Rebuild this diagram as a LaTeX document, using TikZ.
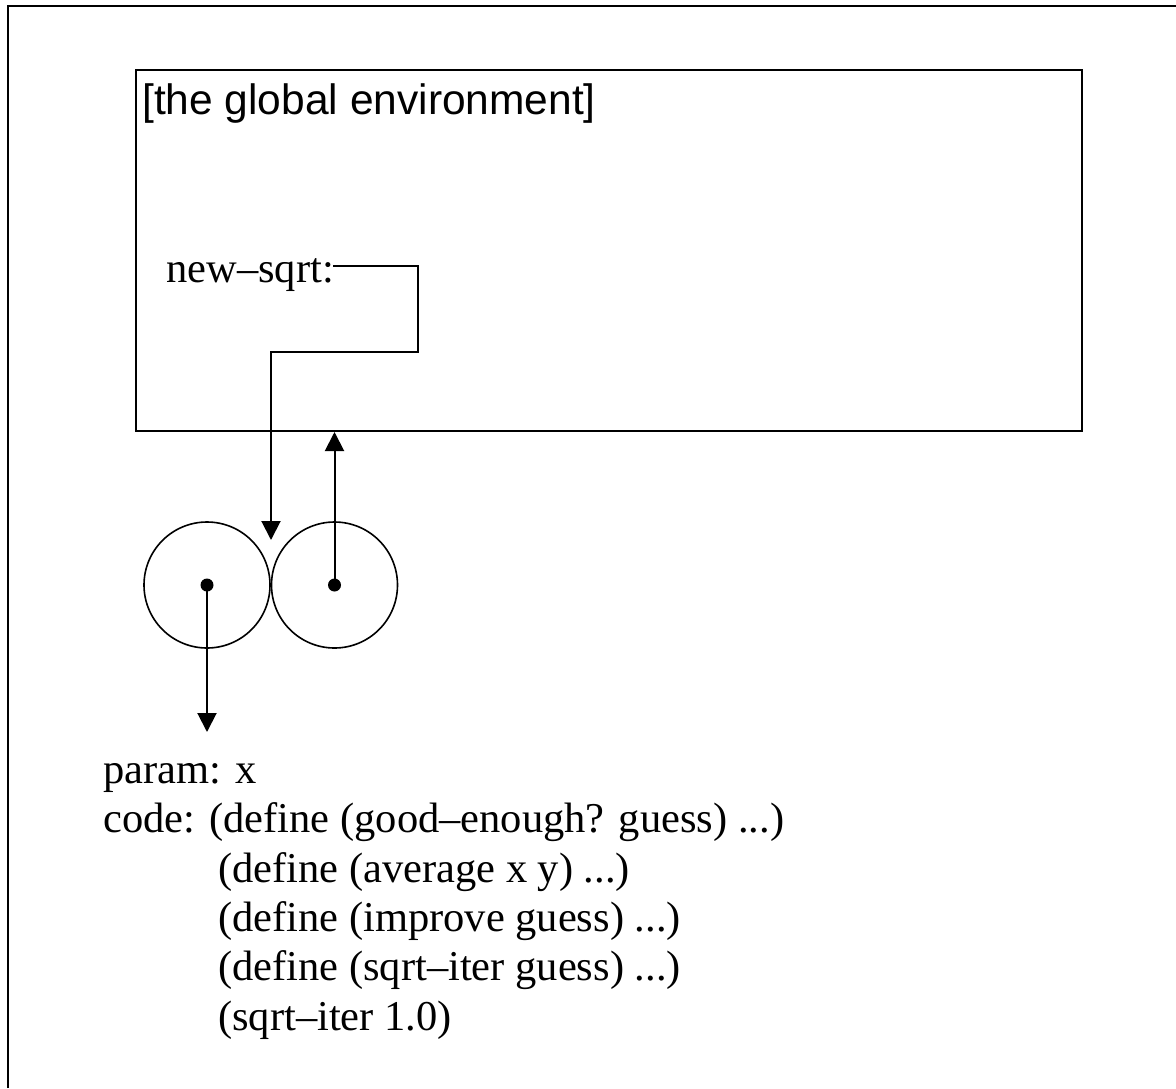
\documentclass[tikz,border=0pt]{standalone}
\usepackage{fontspec}
\setmainfont{Liberation Serif}
\setsansfont{Liberation Sans}
\usetikzlibrary{arrows.meta}

\tikzset{
  envBox/.style={draw, line width=2pt, inner sep=0pt},
  frameText/.style={font=\sffamily\fontsize{42.5}{50}\selectfont, anchor=base west, inner sep=0pt},
  valText/.style={font=\fontsize{42.5}{50}\selectfont, anchor=base west, inner sep=0pt},
  pairCell/.style={draw, circle, line width=1.6pt, minimum size=126pt, inner sep=0pt},
  ptrDot/.style={fill, circle, minimum size=13pt, inner sep=0pt},
  ptrLine/.style={line width=2pt, -{Triangle[width=19pt,length=19pt]}},
}

\begin{document}
\begin{tikzpicture}[x=1pt,y=-1pt]
\useasboundingbox (0,0) rectangle (1176,1088);
\draw[line width=2.5pt] (8,1088) -- (8,6) -- (1176,6);
\node[envBox, minimum width=946pt, minimum height=361pt] (globalEnv) at (609,250.5) {};
\node[frameText] (envTitle) at (142,114) {[the global environment]};
\node[valText] (newSqrt) at (166,282) {new--sqrt:};
\coordinate (bindStart) at (333,266);
\node[pairCell] (leftCell) at (207,585) {};
\node[pairCell] (rightCell) at (334.5,585) {};
\node[ptrDot] (leftDot) at (leftCell) {};
\node[ptrDot] (rightDot) at (rightCell) {};
\coordinate (pairTop) at (271,540);
\coordinate (paramTip) at (207,732);
\node[valText] (paramLine) at (103,783) {param: x};
\node[valText] (codeLine) at (103,832) {code: (define (good--enough? guess) ...)};
\node[valText] (averageLine) at (218,882) {(define (average x y) ...)};
\node[valText] (improveLine) at (218,931) {(define (improve guess) ...)};
\node[valText] (iterLine) at (218,980) {(define (sqrt--iter guess) ...)};
\node[valText] (callLine) at (218,1030) {(sqrt--iter 1.0)};
\draw[ptrLine] (bindStart) -| (418,352) -| (pairTop);
\draw[ptrLine] (rightDot.center) -- (rightDot.center |- globalEnv.south);
\draw[ptrLine] (leftDot.center) -- (paramTip);
\end{tikzpicture}
\end{document}
